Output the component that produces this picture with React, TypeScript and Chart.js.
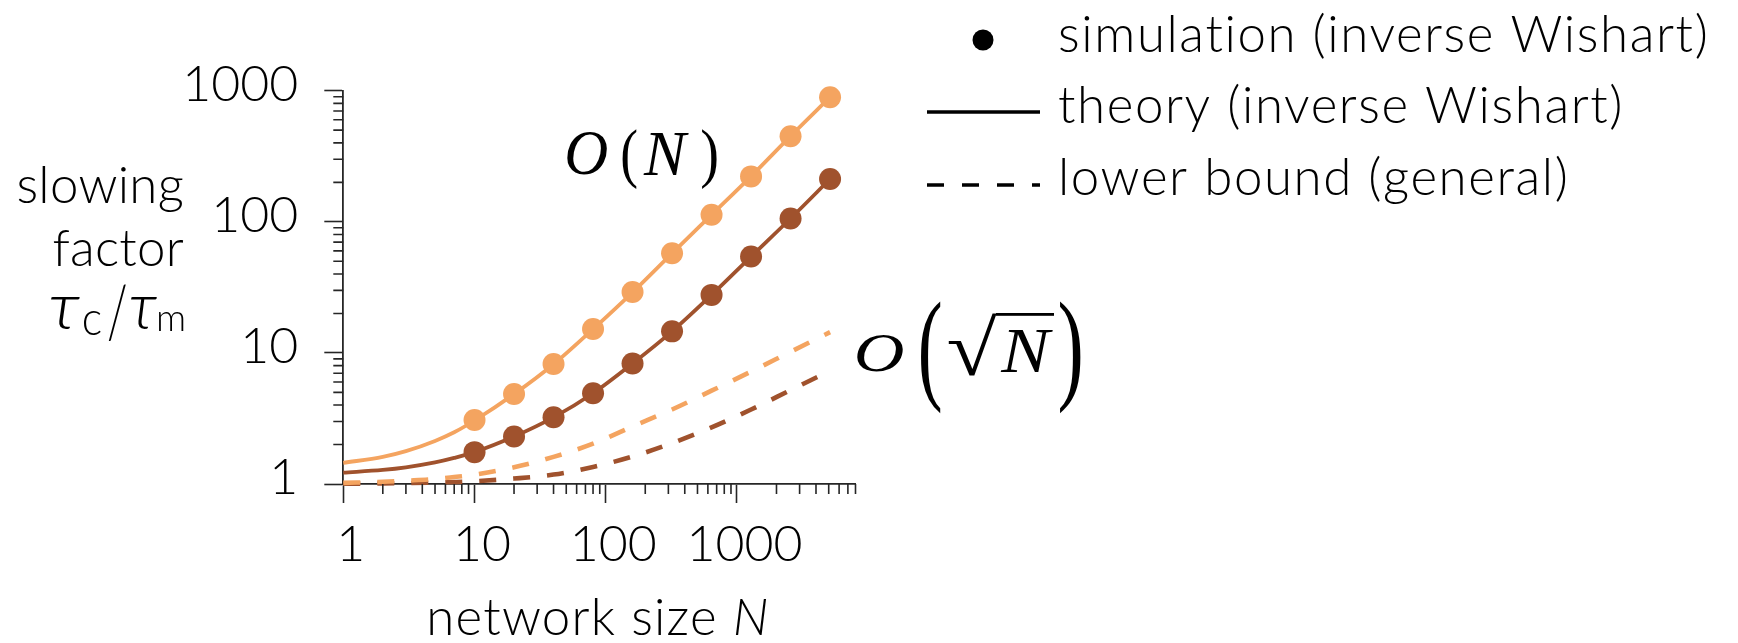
import { useEffect, useRef } from 'react';
import { Chart, registerables } from 'chart.js';

Chart.register(...registerables);

// Network sizes at which the simulation was run
const simN = [10, 20, 40, 80, 160, 320, 640, 1280, 2560, 5120];
const simLight = [3.08, 4.86, 8.24, 15.2, 29.1, 57.5, 113, 222, 450, 892];
const simDark = [1.75, 2.3, 3.23, 4.92, 8.3, 14.6, 27.7, 54.3, 106, 212];

// Sample points of the theory curves and of the lower bounds
const curveN = [1, 2, 3, 5, 7, 10, 20, 40, 80, 160, 320, 640, 1280, 2560, 5120];
const theoryLight = [1.45, 1.61, 1.78, 2.13, 2.48, 3.05, 4.85, 8.2, 15.2, 29, 57.5, 113, 222, 450, 892];
const theoryDark = [1.22, 1.28, 1.34, 1.46, 1.58, 1.75, 2.3, 3.22, 4.92, 8.3, 14.6, 27.7, 54.3, 106, 212];
const boundLight = [1.02, 1.04, 1.06, 1.09, 1.13, 1.18, 1.34, 1.61, 2.03, 2.75, 3.7, 5.15, 7.2, 10.2, 14.4];
const boundDark = [1.005, 1.01, 1.015, 1.025, 1.035, 1.05, 1.1, 1.18, 1.35, 1.62, 2.05, 2.7, 3.7, 5.2, 7.3];

const xTickValues = [1, 10, 100, 1000];
const yTickValues = [1, 10, 100, 1000];
const legendLabels = ['simulation (inverse Wishart)', 'theory (inverse Wishart)', 'lower bound (general)'];
const yTitleLines = ['slowing', 'factor'];
const xTitle = 'network size ';

const LIGHT = '#F4A460';
const DARK = '#A0522D';
const INK = '#000000';
const AXIS = '#262626';
const SANS = 'Lato, "DejaVu Sans", sans-serif';
const SERIF = '"Liberation Serif", "DejaVu Serif", serif';
const TEXT_FONT = `300 51px ${SANS}`;
const TAU_FONT = `italic 300 52px Lato, "DejaVu Sans ExtraLight", "DejaVu Sans", sans-serif`;

const W = 1738;
const H = 643;

const pts = (xs: number[], ys: number[]) => xs.map((x, i) => ({ x, y: ys[i] }));

// draw a glyph so that its ink box fills the given rectangle
function drawFitted(ctx: CanvasRenderingContext2D, text: string, font: string, x0: number, y0: number, x1: number, y1: number) {
  ctx.save();
  ctx.font = font;
  ctx.textAlign = 'left';
  ctx.textBaseline = 'alphabetic';
  const m = ctx.measureText(text);
  const w = m.actualBoundingBoxLeft + m.actualBoundingBoxRight;
  const h = m.actualBoundingBoxAscent + m.actualBoundingBoxDescent;
  ctx.translate(x0, y0);
  ctx.scale((x1 - x0) / w, (y1 - y0) / h);
  ctx.fillText(text, m.actualBoundingBoxLeft, m.actualBoundingBoxAscent);
  ctx.restore();
}

function setSpacing(ctx: CanvasRenderingContext2D, px: number) {
  const c: any = ctx;
  if ('letterSpacing' in c) c.letterSpacing = `${px}px`;
}

const decorPlugin = {
  id: 'decor',
  afterDraw(chart: any) {
    const ctx: CanvasRenderingContext2D = chart.ctx;
    const xs = chart.scales.x;
    const ys = chart.scales.y;
    const area = chart.chartArea;

    // minor ticks
    ctx.save();
    ctx.strokeStyle = AXIS;
    ctx.lineWidth = 1.6;
    ctx.beginPath();
    for (let k = 0; k <= 3; k++) {
      for (let d = 2; d <= 9; d++) {
        const v = d * Math.pow(10, k);
        if (v <= xs.max) {
          const px = xs.getPixelForValue(v);
          ctx.moveTo(px, area.bottom);
          ctx.lineTo(px, area.bottom + 10);
        }
        if (v < ys.max) {
          const py = ys.getPixelForValue(v);
          ctx.moveTo(area.left, py);
          ctx.lineTo(area.left - 10, py);
        }
      }
    }
    ctx.stroke();
    ctx.restore();

    ctx.save();
    ctx.fillStyle = INK;

    // y axis title
    ctx.font = TEXT_FONT;
    setSpacing(ctx, 0.3);
    ctx.textAlign = 'right';
    ctx.textBaseline = 'alphabetic';
    ctx.fillText(yTitleLines[0], 184, 203);
    ctx.fillText(yTitleLines[1], 184, 266);
    setSpacing(ctx, 0);
    drawFitted(ctx, 'τ', TAU_FONT, 50, 298, 80, 329);
    drawFitted(ctx, 'c', `300 36px ${SANS}`, 83, 311, 101, 335);
    drawFitted(ctx, '/', `300 50px ${SANS}`, 108, 286, 126, 341);
    drawFitted(ctx, 'τ', TAU_FONT, 130, 298, 157, 329);
    drawFitted(ctx, 'm', `300 36px ${SANS}`, 158, 312, 184, 331);

    // x axis title
    ctx.textAlign = 'left';
    ctx.font = TEXT_FONT;
    setSpacing(ctx, 1.2);
    const w1 = ctx.measureText(xTitle).width;
    ctx.font = `italic ${TEXT_FONT}`;
    const w2 = ctx.measureText('N').width;
    const x0 = 598 - (w1 + w2) / 2;
    ctx.font = TEXT_FONT;
    ctx.fillText(xTitle, x0, 635);
    ctx.font = `italic ${TEXT_FONT}`;
    ctx.fillText('N', x0 + w1, 635);
    setSpacing(ctx, 0);

    // growth annotations
    const mathIt = `italic 64px ${SERIF}`;
    const mathUp = `64px ${SERIF}`;
    drawFitted(ctx, 'O', mathIt, 567, 132, 607, 175);
    drawFitted(ctx, '(', mathUp, 622, 128, 637, 189);
    drawFitted(ctx, 'N', mathIt, 643, 133, 689, 175);
    drawFitted(ctx, ')', mathUp, 702, 128, 717, 189);

    drawFitted(ctx, 'O', mathIt, 857, 335, 903, 372);
    drawFitted(ctx, '(', mathUp, 920, 300, 941, 414);
    drawFitted(ctx, '√', mathUp, 948, 313, 998, 376);
    ctx.fillRect(996, 313, 58, 2.8);
    drawFitted(ctx, 'N', mathIt, 1000, 331, 1053, 372);
    drawFitted(ctx, ')', mathUp, 1060, 300, 1081, 414);

    // legend
    ctx.fillStyle = '#000';
    ctx.strokeStyle = '#000';
    ctx.beginPath();
    ctx.arc(983, 40, 10.5, 0, Math.PI * 2);
    ctx.fill();
    ctx.lineWidth = 3.5;
    ctx.lineCap = 'butt';
    ctx.beginPath();
    ctx.moveTo(927, 112);
    ctx.lineTo(1040, 112);
    ctx.stroke();
    ctx.setLineDash([17, 18]);
    ctx.beginPath();
    ctx.moveTo(927, 185);
    ctx.lineTo(1040, 185);
    ctx.stroke();
    ctx.setLineDash([]);
    ctx.fillStyle = INK;
    ctx.font = TEXT_FONT;
    setSpacing(ctx, 1.6);
    ctx.textAlign = 'left';
    ctx.fillText(legendLabels[0], 1058, 52);
    ctx.fillText(legendLabels[1], 1058, 123);
    ctx.fillText(legendLabels[2], 1058, 195);
    setSpacing(ctx, 0);
    ctx.restore();
  },
};

export default function App() {
  const canvasRef = useRef<HTMLCanvasElement>(null);

  useEffect(() => {
    if (!canvasRef.current) return;
    const tickFont = { family: SANS, size: 50, weight: '300' };
    const chart = new Chart(canvasRef.current, {
      type: 'scatter',
      data: {
        datasets: [
          { data: pts(simN, simLight), showLine: false, pointRadius: 11, pointBorderWidth: 0, backgroundColor: LIGHT, borderColor: LIGHT, clip: false },
          { data: pts(simN, simDark), showLine: false, pointRadius: 11, pointBorderWidth: 0, backgroundColor: DARK, borderColor: DARK, clip: false },
          { data: pts(curveN, theoryLight), showLine: true, pointRadius: 0, borderWidth: 3.8, borderColor: LIGHT, cubicInterpolationMode: 'monotone', clip: false },
          { data: pts(curveN, theoryDark), showLine: true, pointRadius: 0, borderWidth: 3.8, borderColor: DARK, cubicInterpolationMode: 'monotone', clip: false },
          { data: pts(curveN, boundLight), showLine: true, pointRadius: 0, borderWidth: 4.6, borderColor: LIGHT, borderDash: [17, 17], borderCapStyle: 'butt', cubicInterpolationMode: 'monotone', clip: false },
          { data: pts(curveN, boundDark), showLine: true, pointRadius: 0, borderWidth: 4.6, borderColor: DARK, borderDash: [17, 17], borderCapStyle: 'butt', cubicInterpolationMode: 'monotone', clip: false },
        ],
      } as any,
      options: {
        animation: false,
        responsive: false,
        events: [],
        layout: { padding: { left: 0, right: W - 855.5, top: 90.7, bottom: 0 } },
        plugins: { legend: { display: false }, tooltip: { enabled: false } },
        scales: {
          x: {
            type: 'logarithmic',
            min: 1,
            max: 8000,
            afterFit: (s: any) => { s.height = H - 484; },
            afterBuildTicks: (s: any) => { s.ticks = xTickValues.map((v) => ({ value: v, major: true })); },
            ticks: { font: tickFont, color: INK, padding: 12, labelOffset: 7.5, maxRotation: 0, autoSkip: false, callback: (v: any) => String(v) },
            grid: { display: true, drawOnChartArea: false, drawTicks: true, tickLength: 19, tickColor: AXIS, tickWidth: 1.6 },
            border: { display: true, color: AXIS, width: 1.8 },
          },
          y: {
            type: 'logarithmic',
            min: 1,
            max: 1000,
            afterFit: (s: any) => { s.width = 343.3; },
            afterBuildTicks: (s: any) => { s.ticks = yTickValues.map((v) => ({ value: v, major: true })); },
            ticks: { font: tickFont, color: INK, padding: 26, labelOffset: -6, autoSkip: false, callback: (v: any) => String(v) },
            grid: { display: true, drawOnChartArea: false, drawTicks: true, tickLength: 19, tickColor: AXIS, tickWidth: 1.6 },
            border: { display: true, color: AXIS, width: 1.8 },
          },
        },
      } as any,
      plugins: [decorPlugin],
    });
    return () => chart.destroy();
  }, []);

  return (
    <div style={{ position: 'absolute', left: 0, top: 0, width: W, height: H, background: '#fff' }}>
      <canvas ref={canvasRef} width={W} height={H} style={{ width: W, height: H, display: 'block' }} />
    </div>
  );
}
